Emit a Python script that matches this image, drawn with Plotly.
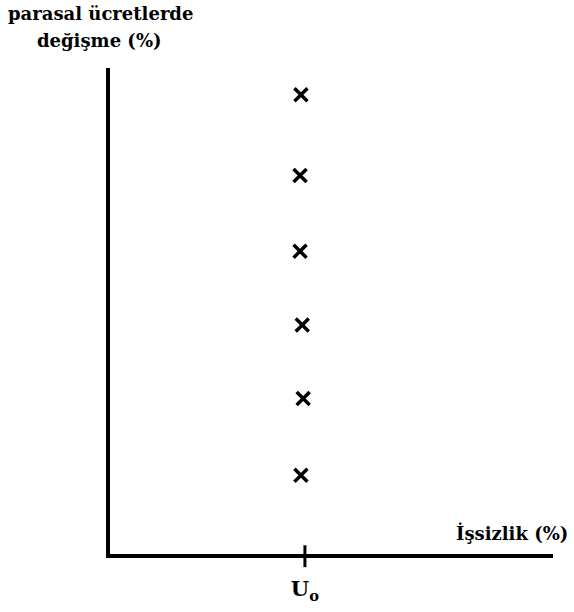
import plotly.graph_objects as go

# Data
u0 = 4.4
u0_label = "<b>U<sub>o</sub></b>"
x_points = [4.31, 4.29, 4.29, 4.34, 4.36, 4.31]
y_points = [9.45, 7.79, 6.23, 4.71, 3.20, 1.62]
y_title = ["parasal ücretlerde", "değişme (%)"]
x_title = "İşsizlik (%)"

L, R, T, B = 110, 21, 68, 58
W, H = 574, 612
pw, ph = W - L - R, H - T - B

def px(xp):
    return (xp - L) / pw

def py(yp):
    return (H - B - yp) / ph

font_family = "DejaVu Serif"

fig = go.Figure()
fig.add_trace(go.Scatter(
    x=x_points, y=y_points, mode="markers",
    marker=dict(symbol="x-thin-open", size=13, color="black",
                line=dict(color="black", width=3.5)),
    showlegend=False, hoverinfo="skip",
))

fig.update_layout(
    width=W, height=H,
    margin=dict(l=L, r=R, t=T, b=B, autoexpand=False),
    paper_bgcolor="white", plot_bgcolor="white",
    xaxis=dict(range=[0, 10], showgrid=False, zeroline=False,
               showline=True, linecolor="black", linewidth=4,
               tickmode="array", tickvals=[u0], ticktext=[u0_label],
               ticks="", ticklabelstandoff=13, automargin=False,
               tickfont=dict(family=font_family, size=21, color="black"),
               fixedrange=True),
    yaxis=dict(range=[0, 10], showgrid=False, zeroline=False,
               showline=True, linecolor="black", linewidth=4, automargin=False,
               showticklabels=False, ticks="", fixedrange=True),
    shapes=[dict(type="line", xref="x", yref="paper", x0=u0, x1=u0,
                 y0=-0.027, y1=0.018, line=dict(color="black", width=3))],
    annotations=[
        dict(text="<b>%s</b>" % y_title[0], xref="paper", yref="paper",
             x=px(100), y=py(14), showarrow=False, xanchor="center", yanchor="middle",
             font=dict(family=font_family, size=18, color="black")),
        dict(text="<b>%s</b>" % y_title[1], xref="paper", yref="paper",
             x=px(99), y=py(41), showarrow=False, xanchor="center", yanchor="middle",
             font=dict(family=font_family, size=18, color="black")),
        dict(text="<b>%s</b>" % x_title, xref="paper", yref="paper",
             x=px(570), y=py(533), showarrow=False, xanchor="right", yanchor="middle",
             font=dict(family=font_family, size=18, color="black")),
    ],
)

fig.write_html("out.html", config={"displayModeBar": False},
               post_script="document.body.style.margin='0';")
